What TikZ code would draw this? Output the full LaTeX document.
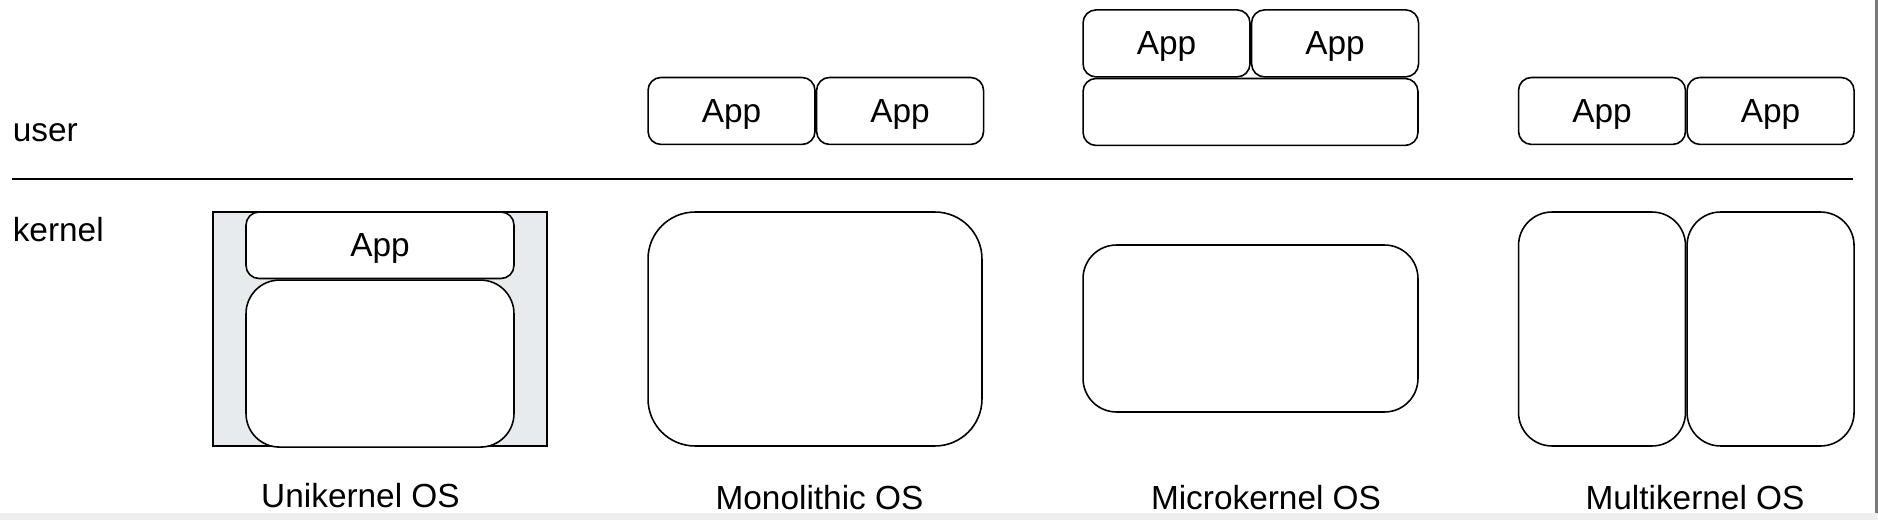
\documentclass[tikz,border=0pt]{standalone}
\usepackage{fontspec}
\setmainfont{Liberation Sans}
\usepackage{tikz}
\usetikzlibrary{positioning}
\definecolor{unigray}{RGB}{232,235,238}
\definecolor{edgegray}{RGB}{122,122,122}
\definecolor{stripgray}{RGB}{239,239,239}

\begin{document}
\begin{tikzpicture}[x=0.02cm,y=-0.02cm,node distance=0cm,line width=0.9pt,
 every node/.style={inner sep=0pt,font=\fontsize{19}{23}\selectfont},
 app/.style={draw,rounded corners=0.26cm,minimum width=3.34cm,minimum height=1.34cm,text height=0.6cm,text depth=0.154cm},
 wideapp/.style={app,minimum width=5.36cm,minimum height=1.33cm},
 server/.style={app,minimum width=6.7cm,minimum height=1.34cm},
 unibox/.style={draw,fill=unigray,minimum width=6.68cm,minimum height=4.68cm},
 unikernel/.style={draw,fill=white,rounded corners=0.67cm,minimum width=5.36cm,minimum height=3.34cm},
 bigkernel/.style={draw,rounded corners=0.94cm,minimum width=6.68cm,minimum height=4.68cm},
 microkernel/.style={draw,rounded corners=0.67cm,minimum width=6.7cm,minimum height=3.34cm},
 halfkernel/.style={draw,rounded corners=0.67cm,minimum width=3.34cm,minimum height=4.68cm},
 caption/.style={anchor=base}]
 \useasboundingbox (0,0) rectangle (1878,520);
 \fill[stripgray] (0,513) rectangle (1878,520);
 \fill[edgegray] (1875,0) rectangle (1878,513);

 \node[anchor=base west] (user) at (12,141.7) {user};
 \node[anchor=base west] (kern) at (12,241.7) {kernel};
 \coordinate (sep_l) at (12,179);
 \coordinate (sep_r) at (1853,179);
 \draw (sep_l) -- (sep_r);

 \node[unibox] (uni) at (380,329) {};
 \node[wideapp,fill=white] (uni_app) [below=of uni.north] {App};
 \node[unikernel] (uni_k) [below=of uni_app] {};

 \node[bigkernel] (mono_k) at (815,329) {};
 \node[app] (mono_a1) [above right=1.32cm and 0cm of mono_k.north west] {App};
 \node[app] (mono_a2) [right=of mono_a1] {App};

 \node[microkernel] (micro_k) at (1250.5,328.5) {};
 \node[server] (micro_s) [above=1.96cm of micro_k] {};
 \node[app] (micro_a1) [above right=0cm and 0cm of micro_s.north west] {App};
 \node[app] (micro_a2) [right=of micro_a1] {App};

 \node[halfkernel] (multi_k1) at (1602,329) {};
 \node[halfkernel] (multi_k2) [right=of multi_k1] {};
 \node[app] (multi_a1) [above=1.32cm of multi_k1] {App};
 \node[app] (multi_a2) [above=1.32cm of multi_k2] {App};

 \node[caption] (uni_cap) at (360.5,507.7) {Unikernel OS};
 \node[caption] (mono_cap) at (819.5,509) {Monolithic OS};
 \node[caption] (micro_cap) at (1266,509) {Microkernel OS};
 \node[caption] (multi_cap) at (1695,509) {Multikernel OS};
\end{tikzpicture}
\end{document}
